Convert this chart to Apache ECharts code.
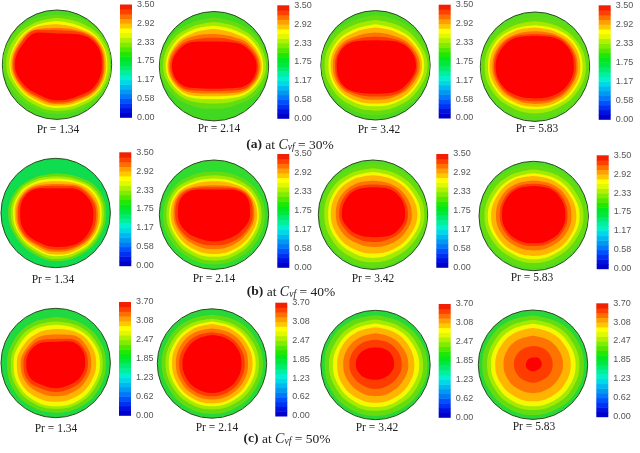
<!DOCTYPE html>
<html><head><meta charset="utf-8">
<style>html,body{margin:0;background:#fff}#c{width:640px;height:453px;filter:blur(0.4px)}</style>
<script src="https://cdn.jsdelivr.net/npm/echarts@6/dist/echarts.min.js"></script>
</head><body><div id="c"></div>
<script>
// Contour radii (% of disc radius), at angles clockwise from top. Outer contour first.
const angles = [0,30,60,90,120,150,180,210,240,270,300,330];
const prLabels = ['Pr = 1.34','Pr = 2.14','Pr = 3.42','Pr = 5.83'];
const ticksA = [0,0.58,1.17,1.75,2.33,2.92,3.5];
const ticksC = [0,0.62,1.23,1.85,2.47,3.08,3.7];
const A1 = [[92,95,99,99,99,93,90,90,94,99,98,94],[86,88,95,97,94,87,84,84,87,93,91,87],[80,82,90,92,90,82,79,78,82,87,85,82],[74,77,88,90,88,79,75,75,80,85,82,79],[67,73,85,87,85,75,72,71,77,82,79,75],[63,70,83,85,83,72,69,68,75,80,77,73],[57,65,80,82,79,68,65,64,71,77,73,68]];
const A2 = [[89,90,96,99,94,82,78,83,93,99,96,90],[81,83,90,95,87,74,68,75,86,93,90,83],[74,76,85,90,82,67,60,68,81,88,84,77],[68,70,80,87,79,62,55,63,78,85,80,71],[59,63,76,84,76,57,50,57,75,83,77,65],[52,57,72,81,73,52,46,52,72,80,73,58],[45,51,68,78,69,47,41,47,68,77,69,52]];
const A3 = [[92,92,96,99,97,92,91,92,97,99,97,92],[83,84,89,95,90,85,83,85,90,93,90,84],[75,76,83,89,84,78,75,78,84,86,83,76],[69,71,79,85,80,74,70,74,80,82,79,71],[60,63,74,81,75,67,63,67,76,78,74,63],[52,57,70,77,71,63,57,62,73,74,70,57],[46,52,67,74,67,58,52,58,70,71,67,52]];
const A4 = [[92,93,97,99,97,94,92,94,97,99,97,93],[83,85,90,93,90,86,85,86,90,92,90,85],[76,79,85,87,84,80,78,80,84,86,85,79],[71,74,81,83,80,76,73,75,80,83,81,75],[65,69,76,78,75,71,68,70,75,78,76,69],[60,66,73,75,72,67,63,67,72,75,73,66],[56,62,70,71,68,62,58,62,69,72,69,62]];
const B1 = [[72,77,89,92,91,89,88,85,85,87,83,75],[67,72,84,88,87,85,84,80,81,82,79,71],[63,68,80,84,84,81,79,76,77,78,75,67],[58,64,76,81,81,78,76,73,75,75,72,63],[53,60,71,77,78,74,71,69,72,72,69,59],[50,57,68,74,75,71,67,66,70,69,67,56],[45,52,64,69,70,67,62,62,66,65,64,52]];
const B2 = [[79,83,90,93,92,91,91,91,92,93,90,83],[72,76,84,87,85,84,84,84,85,87,85,76],[66,70,79,82,80,78,77,78,80,82,80,70],[61,66,76,79,76,73,72,73,76,79,77,66],[54,60,73,74,69,65,63,65,70,74,74,60],[50,57,71,71,65,59,56,59,66,71,71,57],[46,53,68,66,58,51,49,51,60,66,67,53]];
const B3 = [[93,94,97,99,97,95,95,95,96,96,96,94],[85,86,90,94,90,87,87,87,88,89,89,86],[78,79,83,87,83,79,79,79,81,82,82,79],[72,74,78,81,77,73,71,72,75,77,77,74],[62,65,69,71,67,62,59,60,65,68,68,65],[55,60,63,64,60,53,50,52,57,62,62,59],[50,55,59,59,54,46,41,44,51,57,57,54]];
const B4 = [[93,94,96,99,96,94,94,94,96,98,96,94],[85,86,88,91,88,86,86,86,88,90,88,86],[78,79,81,84,81,79,79,79,81,84,81,79],[73,74,76,78,76,74,73,74,76,78,76,75],[65,67,69,69,67,64,63,64,67,69,69,67],[59,62,63,62,60,57,55,57,60,62,63,62],[55,58,59,58,56,52,50,52,56,58,59,58]];
const C1 = [[84,86,90,92,92,92,91,91,91,89,87,85],[76,79,83,86,85,85,84,84,84,82,80,78],[70,73,78,81,80,80,79,79,79,77,74,72],[62,67,72,74,73,72,71,72,73,71,67,64],[52,59,64,65,64,62,61,62,65,64,59,56],[44,51,58,59,58,54,53,54,60,59,55,49],[39,46,54,54,52,47,46,47,54,54,51,44]];
const C2 = [[89,90,91,93,92,92,92,92,91,92,91,90],[82,82,84,86,85,84,84,84,84,85,84,83],[77,77,78,80,79,78,78,78,78,79,78,77],[72,72,73,74,73,73,73,73,73,73,73,72],[64,65,66,66,66,66,66,66,66,66,66,65],[57,58,59,60,60,60,60,60,60,60,59,58],[52,53,54,54,54,54,54,54,54,54,53,52]];
const C3 = [[91,91,93,95,94,93,93,93,93,93,93,92],[83,83,85,87,86,84,84,84,84,85,84,83],[76,76,78,80,78,77,77,77,77,78,77,76],[69,69,70,71,70,69,69,69,70,70,70,69],[58,58,59,60,58,57,57,57,58,59,59,58],[46,47,48,48,46,44,44,44,46,48,48,47],[32,34,35,34,31,28,27,29,33,36,36,34]];
const C4 = [[90,90,92,93,93,92,92,92,92,93,92,91],[82,82,83,85,84,83,83,83,83,84,83,82],[75,75,76,78,77,76,76,76,76,77,76,75],[67,67,68,69,68,67,67,67,68,69,68,67],[53,53,54,55,53,52,52,52,53,54,54,53],[34,35,36,36,35,33,33,33,34,35,35,34],[13,15,16,16,14,12,12,12,13,13,13,13]];
const levelColors = ['#64dc10','#a4ea00','#f4f800','#ffb400','#ff7400','#ff3c00','#ff0000'];
const bandColors = ['#0000c8','#0010e0','#0030f0','#0050ff','#0078f8','#0098f0','#00b8f0','#00d8e8','#00f0d0','#00f0a0','#00ec70','#00e840','#00e820','#20e800','#50e800','#80ec00','#b0f000','#e0f800','#ffff00','#ffc800','#ffa000','#ff7000','#ff4000','#f02000'];

// layout: [cx, cy, barLeft, barTop, barBottom, prX, prY, contours, baseColour, ticks]
const panels = [
 [57,64.7,120,4.3,117.3,58,129,A1,'#4cd820',ticksA],[214,66.2,277.3,5.3,118.3,219,128,A2,'#40d820',ticksA],[375.5,65.3,438.7,4.7,118,379,129,A3,'#4cd820',ticksA],[535,66.7,598.7,5.3,119.3,537,128,A4,'#58dc20',ticksA],
 [55.7,213,119.3,152.3,265.7,53,279,B1,'#10dc50',ticksA],[214,214.7,277.3,154,267.3,214,278,B2,'#30dc30',ticksA],[373,214.7,436.3,154,267.3,373,278,B3,'#50dc20',ticksA],[533.7,216,596.7,155.3,268.7,532,277,B4,'#50dc20',ticksA],
 [55.7,363,119,302,415.3,56,428,C1,'#20d840',ticksC],[212,363.5,275.3,302.7,416,217,427,C2,'#28d838',ticksC],[375.5,365,438.7,304,417.3,377,427,C3,'#28d838',ticksC],[533,364.7,596.3,303.3,416.7,534,426,C4,'#28d838',ticksC]
];
const captions = [['(a)','30%',285,140],['(b)','40%',286,287],['(c)','50%',282,434]];
const R = 54.7, barW = 12;
const opt = {animation:false,backgroundColor:'#fff',polar:[],angleAxis:[],radiusAxis:[],grid:[],xAxis:[],yAxis:[],series:[],title:[]};
panels.forEach((p,i)=>{
  const [cx,cy,bl,bt,bb,px,py,cont,base,ticks]=p;
  const tmax=ticks[ticks.length-1];
  opt.polar.push({center:[cx,cy],radius:R});
  opt.angleAxis.push({polarIndex:i,type:'value',min:0,max:360,startAngle:90,clockwise:true,silent:true,
    axisLine:{show:true,lineStyle:{color:'#2f4a20',width:1}},axisTick:{show:false},axisLabel:{show:false},splitLine:{show:false},
    splitArea:{show:true,areaStyle:{color:[base]}}});
  opt.radiusAxis.push({polarIndex:i,min:0,max:100,axisLine:{show:false},axisTick:{show:false},axisLabel:{show:false},splitLine:{show:false}});
  cont.forEach((radii,k)=>{
    const data=angles.map((a,j)=>[radii[j],a]); data.push([radii[0],360]);
    opt.series.push({type:'line',coordinateSystem:'polar',polarIndex:i,data,smooth:0.4,showSymbol:false,silent:true,
      lineStyle:{width:0},itemStyle:{color:levelColors[k]},areaStyle:{color:levelColors[k],opacity:1},z:10+k});
  });
  opt.grid.push({left:bl,top:bt,width:barW,height:bb-bt,containLabel:false});
  opt.xAxis.push({gridIndex:i,type:'value',min:0,max:1,show:false});
  opt.yAxis.push({gridIndex:i,type:'value',min:0,max:tmax,position:'right',
    axisLine:{show:false},axisTick:{show:false},splitLine:{show:false},
    axisLabel:{customValues:ticks,margin:5,fontSize:9,fontFamily:'Liberation Sans',color:'#555',formatter:v=>v.toFixed(2)}});
  opt.series.push({type:'custom',xAxisIndex:i,yAxisIndex:i,silent:true,clip:false,
    data:bandColors.map((c,j)=>[j]),
    renderItem:(params,api)=>{
      const j=api.value(0),n=bandColors.length;
      const a=api.coord([0,tmax*j/n]),b=api.coord([1,tmax*(j+1)/n]);
      return {type:'rect',shape:{x:a[0],y:b[1],width:b[0]-a[0],height:a[1]-b[1]+0.5},style:{fill:bandColors[j]}};
    }});
  opt.title.push({text:prLabels[i%4],left:px-5,top:py-4,textAlign:'center',textVerticalAlign:'middle',
    textStyle:{fontFamily:'Liberation Serif',fontSize:11.5,fontWeight:'normal',color:'#222'}});
});
captions.forEach(c=>{
  opt.title.push({text:`{b|${c[0]}} at {i|C}{s|vf} = ${c[1]}`,left:c[2],top:c[3],textAlign:'center',textVerticalAlign:'middle',
    textStyle:{fontFamily:'Liberation Serif',fontSize:13.5,fontWeight:'normal',color:'#222',
      rich:{b:{fontFamily:'Liberation Serif',fontSize:13.5,fontWeight:'bold',color:'#222'},
            i:{fontFamily:'Liberation Serif',fontSize:14,fontStyle:'italic',color:'#222'},
            s:{fontFamily:'Liberation Serif',fontSize:9.5,fontStyle:'italic',color:'#222',padding:[4,0,0,0]}}}});
});
echarts.init(document.getElementById('c'),null,{renderer:'canvas'}).setOption(opt);
</script></body></html>
